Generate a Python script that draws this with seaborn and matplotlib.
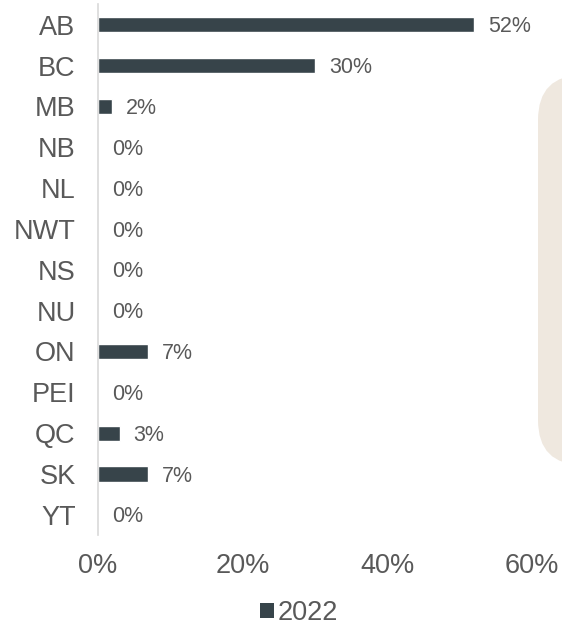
import matplotlib
matplotlib.use("Agg")
import matplotlib.pyplot as plt
import seaborn as sns
import pandas as pd
from matplotlib.patches import FancyBboxPatch, Patch
from matplotlib.ticker import FuncFormatter

provinces = ["AB", "BC", "MB", "NB", "NL", "NWT", "NS", "NU", "ON", "PEI", "QC", "SK", "YT"]
share_2022 = [52, 30, 2, 0, 0, 0, 0, 0, 7, 0, 3, 7, 0]
series_name = "2022"
x_ticks = [0, 20, 40, 60]

bar_color = "#37444a"
text_color = "#595959"

sns.set_theme(style="white")
plt.rcParams["font.family"] = ["Liberation Sans", "DejaVu Sans"]

df = pd.DataFrame({"province": provinces, "share": share_2022, "year": series_name})

fig = plt.figure(figsize=(5.62, 6.26), dpi=100)
ax = fig.add_axes([0.174, 0.145, 0.947 - 0.174, 0.993 - 0.145])

# decorative beige panel on the right edge
panel = FancyBboxPatch((538, 626 - 465), 80, 390,
                       boxstyle="round,pad=0,rounding_size=45",
                       transform=None, facecolor="#efe8df", edgecolor="none",
                       zorder=0)
fig.patches.append(panel)

sns.barplot(data=df, x="share", y="province", orient="h", color=bar_color,
            width=0.37, ax=ax, saturation=1, legend=False)

ax.set_xlim(0, 60)
ax.set_xticks(x_ticks)
ax.xaxis.set_major_formatter(FuncFormatter(lambda v, p: f"{v:.0f}%"))
ax.set_xlabel("")
ax.set_ylabel("")
ax.tick_params(axis="x", labelsize=19.5, colors=text_color, pad=13, length=0)
ax.tick_params(axis="y", labelsize=19.5, colors=text_color, pad=16, length=0)

for s in ["top", "right", "bottom"]:
    ax.spines[s].set_visible(False)
ax.spines["left"].set_color("#d9d9d9")
ax.spines["left"].set_linewidth(1.2)
ax.patch.set_alpha(0)

for i, v in enumerate(share_2022):
    ax.annotate(f"{v}%", xy=(v, i), xytext=(10, -1.5), textcoords="offset points",
                va="center", ha="left", fontsize=15.5, color=text_color)

handles = [Patch(facecolor=bar_color, edgecolor="none", label=series_name)]
fig.legend(handles=handles, loc="center", bbox_to_anchor=(0.532, 1 - 613 / 626),
           frameon=False, fontsize=19.5, labelcolor=text_color,
           handlelength=0.5, handleheight=0.5, handletextpad=0.15)

fig.savefig("out.png", dpi=100)
